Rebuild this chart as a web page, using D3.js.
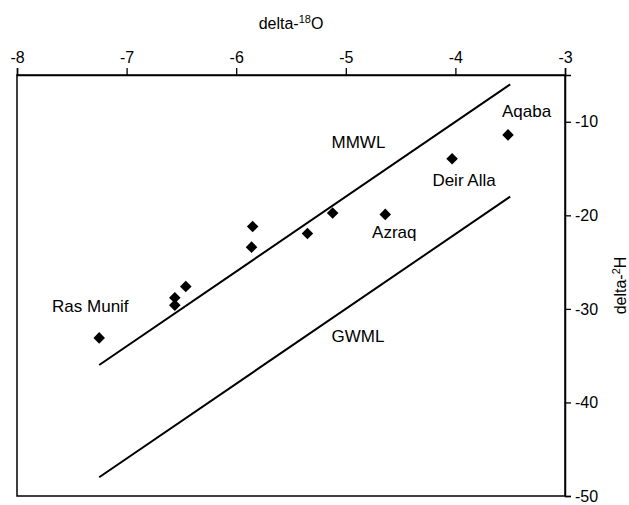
<!DOCTYPE html>
<head>
  <meta charset="utf-8">
  <script src="https://d3js.org/d3.v7.min.js"></script>
  <style>
    body { margin:0; background:#fff; }
    text { font-family: "Liberation Sans", Arial, Helvetica, sans-serif; fill:#000; }
  </style>
</head>
<body>
<script>

  // data
  var d18O = [-7.25, -6.56, -6.56, -6.46, -5.85, -5.86, -5.35, -5.12, -4.64, -4.03, -3.52];
  var d2H  = [-33.1, -28.8, -29.6, -27.6, -21.2, -23.4, -21.95, -19.75, -19.9, -13.95, -11.4];

  // meteoric water lines: dD = 8 * d18O + d
  var lineNames = ["MMWL", "GWML"];
  var lineExcess = [22, 10];
  var lineRange = [-7.25, -3.5];

  var labelText = ["MMWL", "GWML", "Ras Munif", "Azraq", "Deir Alla", "Aqaba"];
  var labelX = [-5.13, -5.13, -7.68, -4.76, -4.21, -3.575];
  var labelY = [-12.8, -33.5, -30.3, -22.4, -16.85, -9.5];

  var xTicks = [-8, -7, -6, -5, -4, -3];
  var yTicks = [-10, -20, -30, -40, -50];

  var margin = {top: 75, right: 64, bottom: 9, left: 17},
  width = 629 - margin.left - margin.right,
  height = 505 - margin.top - margin.bottom;

  var svg = d3.select("body").append("svg")
    .attr("width", 629)
    .attr("height", 505)
    .append("g")
    .attr("transform", "translate(" + margin.left + "," + margin.top + ")");

  var x = d3.scaleLinear().domain([-8, -3]).range([0, width]);
  var y = d3.scaleLinear().domain([-50, -5]).range([height, 0]);

  // plain hyphen for negatives, like the original
  var fmt = function(d) { return String(d); };

  // frame
  svg.append("rect")
    .attr("width", width)
    .attr("height", height)
    .attr("fill", "none")
    .attr("stroke", "#000")
    .attr("stroke-width", 1.5);

  // top axis
  var xAxis = svg.append("g")
    .call(d3.axisTop(x).tickValues(xTicks).tickSize(7).tickPadding(5).tickFormat(fmt));
  xAxis.select(".domain").attr("stroke-width", 1.5);
  xAxis.selectAll("line").attr("stroke-width", 1.3);
  xAxis.selectAll("text").style("font-size", "16px").style("font-family", null);

  // right axis
  var yAxis = svg.append("g")
    .attr("transform", "translate(" + width + ",0)")
    .call(d3.axisRight(y).tickValues(yTicks).tickSize(6).tickPadding(4).tickFormat(fmt));
  yAxis.select(".domain").attr("stroke-width", 1.5);
  yAxis.selectAll("line").attr("stroke-width", 1.3);
  yAxis.selectAll("text").style("font-size", "16px").style("font-family", null);

  // axis titles
  var xt = svg.append("text")
    .attr("x", width / 2)
    .attr("y", -46)
    .attr("text-anchor", "middle")
    .style("font-size", "16px");
  xt.append("tspan").text("delta-");
  xt.append("tspan").attr("dy", -6).style("font-size", "11px").text("18");
  xt.append("tspan").attr("dy", 6).text("O");

  var yt = svg.append("text")
    .attr("transform", "translate(" + (width + 61) + "," + (height / 2) + ") rotate(-90)")
    .attr("text-anchor", "middle")
    .style("font-size", "16px");
  yt.append("tspan").text("delta-");
  yt.append("tspan").attr("dy", -6).style("font-size", "11px").text("2");
  yt.append("tspan").attr("dy", 6).text("H");

  // water lines
  var line = d3.line()
    .x(function(d) { return x(d[0]); })
    .y(function(d) { return y(d[1]); });

  lineNames.forEach(function(name, i) {
    var pts = lineRange.map(function(v) { return [v, 8 * v + lineExcess[i]]; });
    svg.append("path")
      .datum(pts)
      .attr("d", line)
      .attr("fill", "none")
      .attr("stroke", "#000")
      .attr("stroke-width", 2);
  });

  // samples
  var points = d18O.map(function(v, i) { return [v, d2H[i]]; });
  svg.selectAll(".pt").data(points).enter()
    .append("path")
    .attr("class", "pt")
    .attr("d", d3.symbol().type(d3.symbolDiamond2).size(85))
    .attr("transform", function(d) { return "translate(" + x(d[0]) + "," + y(d[1]) + ")"; })
    .attr("fill", "#000");

  // labels
  svg.selectAll(".lbl").data(labelText).enter()
    .append("text")
    .attr("class", "lbl")
    .attr("x", function(d, i) { return x(labelX[i]); })
    .attr("y", function(d, i) { return y(labelY[i]); })
    .style("font-size", "17px")
    .text(function(d) { return d; });

</script>
</body>
